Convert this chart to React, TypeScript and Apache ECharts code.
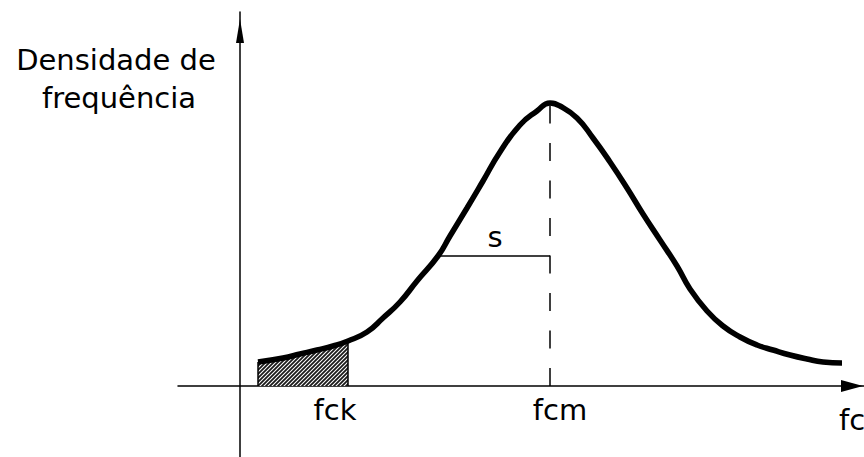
import React, { useEffect, useRef } from "react";
import * as echarts from "echarts";

// Curve (x: offset from the vertical axis, y: height above the horizontal axis)
const curveX = [18, 43, 60, 77, 93, 108, 127, 143, 160, 177, 198, 210, 227, 243, 260, 280, 297, 310, 320, 337, 353, 370, 387, 403, 420, 437, 450, 467, 483, 500, 517, 533, 550, 567, 583, 602];
const curveY = [24, 28, 32, 36, 40, 45, 54, 68, 84, 105, 130, 150, 178, 205, 234, 261, 275, 283, 280, 268, 248, 224, 198, 172, 146, 120, 97, 75, 60, 49, 41, 36, 31, 27, 24, 23];

// Characteristic values
const fckX = 108;
const fcmX = 310;
const peakY = 283;
const sX = 198;
const sY = 130;

// Axis extents
const xMin = -62;
const xMax = 624;
const yMin = -71;
const yMax = 374;

// Texts
const yTitleLines = ["Densidade de", "frequência"];
const fckLabel = "fck";
const fcmLabel = "fcm";
const xEndLabel = "fc";
const sLabel = "s";

function makeHatch(): HTMLCanvasElement {
  const c = document.createElement("canvas");
  const n = 4;
  c.width = n;
  c.height = n;
  const ctx = c.getContext("2d")!;
  ctx.fillStyle = "#ffffff";
  ctx.fillRect(0, 0, n, n);
  ctx.strokeStyle = "#1a1a1a";
  ctx.lineWidth = 1.8;
  ctx.beginPath();
  ctx.moveTo(-1, n + 1);
  ctx.lineTo(n + 1, -1);
  ctx.moveTo(-1, 1);
  ctx.lineTo(1, -1);
  ctx.moveTo(n - 1, n + 1);
  ctx.lineTo(n + 1, n - 1);
  ctx.stroke();
  return c;
}

export default function App() {
  const ref = useRef<HTMLDivElement>(null);
  useEffect(() => {
    if (!ref.current) return;
    const chart = echarts.init(ref.current, null, { renderer: "svg" });
    const curve = curveX.map((x, i) => [x, curveY[i]]);
    const hatchPts = curve.filter((p) => p[0] <= fckX);
    const first = hatchPts[0];
    const last = hatchPts[hatchPts.length - 1];
    const font = { fontSize: 29, fontFamily: "DejaVu Sans", fill: "#000" };
    const txt = (text: string, x: number, y: number, align = "center") => ({
      type: "text",
      x,
      y,
      style: {
        ...font,
        text,
        align,
        textAlign: align,
        verticalAlign: "middle",
        textVerticalAlign: "middle",
      },
    });
    chart.setOption({
      animation: false,
      backgroundColor: "#ffffff",
      grid: { left: 178, right: 0, top: 12, bottom: 0 },
      xAxis: {
        type: "value",
        min: xMin,
        max: xMax,
        axisLine: {
          show: true,
          onZero: true,
          lineStyle: { color: "#000", width: 1.5 },
          symbol: ["none", "triangle"],
          symbolSize: [12, 22],
          symbolOffset: [0, -12],
        },
        axisTick: { show: false },
        axisLabel: { show: false },
        splitLine: { show: false },
      },
      yAxis: {
        type: "value",
        min: yMin,
        max: yMax,
        axisLine: {
          show: true,
          onZero: true,
          lineStyle: { color: "#000", width: 1.5 },
          symbol: ["none", "triangle"],
          symbolSize: [8, 24],
          symbolOffset: [0, -19],
        },
        axisTick: { show: false },
        axisLabel: { show: false },
        splitLine: { show: false },
      },
      series: [
        {
          type: "line",
          data: hatchPts,
          smooth: 0.5,
          showSymbol: false,
          symbol: "none",
          lineStyle: { width: 0, opacity: 0 },
          areaStyle: {
            color: { image: makeHatch(), repeat: "repeat" },
            opacity: 1,
          },
          markLine: {
            silent: true,
            symbol: ["none", "none"],
            label: { show: false },
            lineStyle: { color: "#000", width: 1.5, type: "solid" },
            data: [
              [{ coord: [first[0], 0] }, { coord: [first[0], first[1]] }],
              [{ coord: [last[0], 0] }, { coord: [last[0], last[1]] }],
            ],
          },
          z: 1,
        },
        {
          type: "line",
          data: curve,
          smooth: 0.5,
          showSymbol: false,
          symbol: "none",
          lineStyle: { color: "#000", width: 5.5, cap: "butt" },
          markLine: {
            silent: true,
            symbol: ["none", "none"],
            label: { show: false },
            data: [
              [
                { coord: [fcmX, 0], lineStyle: { color: "#000", width: 1.5, type: [18, 19.5] } },
                { coord: [fcmX, peakY] },
              ],
              [
                { coord: [sX, sY], lineStyle: { color: "#000", width: 1.5, type: "solid" } },
                { coord: [fcmX, sY] },
              ],
            ],
          },
          z: 3,
        },
      ],
      graphic: [
        txt(yTitleLines[0], 116, 60),
        txt(yTitleLines[1], 119, 98),
        txt(fckLabel, 335, 410),
        txt(fcmLabel, 560, 410),
        txt(xEndLabel, 839, 420, "left"),
        txt(sLabel, 495, 237),
      ],
    });
    return () => chart.dispose();
  }, []);
  return (
    <div
      ref={ref}
      style={{ position: "absolute", left: 0, top: 0, width: 864, height: 457, background: "#fff" }}
    />
  );
}
